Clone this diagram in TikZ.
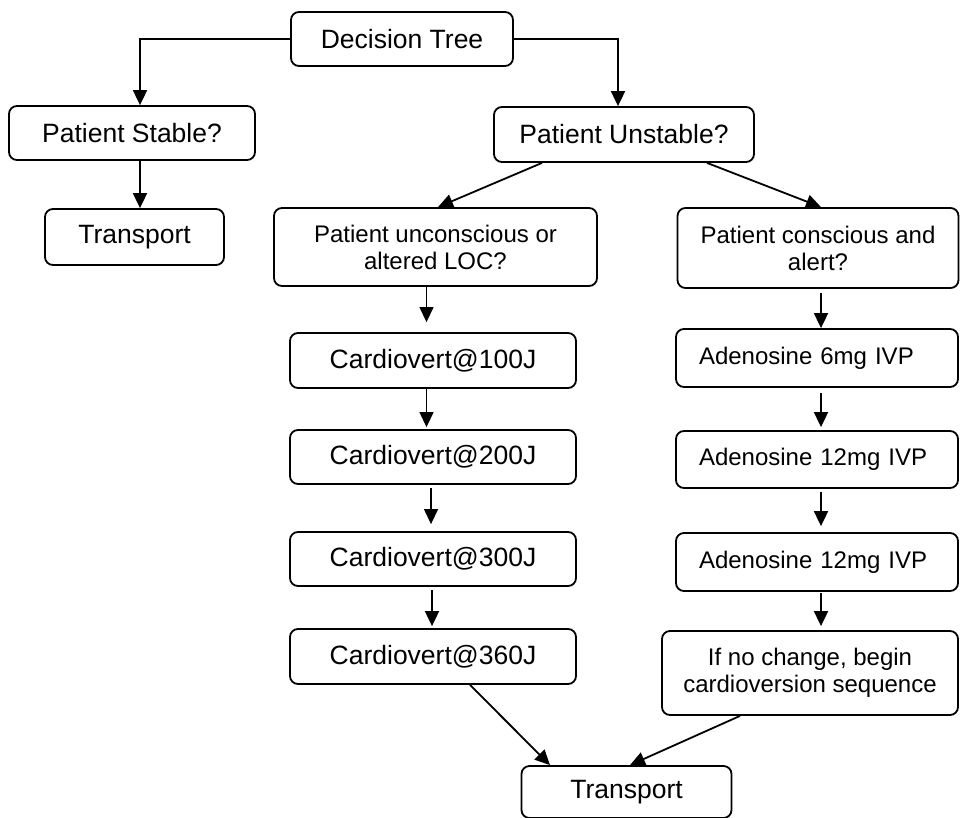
\documentclass[tikz,border=0pt]{standalone}
\usepackage{fontspec}
\setmainfont{Liberation Sans}
\usetikzlibrary{arrows.meta}
\newcommand{\fsz}[2]{\fontsize{#1}{#2}\selectfont}
\tikzset{
  box/.style={draw, line width=1.8pt, rounded corners=8pt, align=center,
    inner sep=0pt, font=\fsz{26.5}{30}},
  smallbox/.style={box, font=\fsz{24}{27}},
  adbox/.style={box, font=\fsz{24}{27}, minimum width=282pt, minimum height=58pt,
    text width=236pt, inner xsep=23pt, align=left},
  arr/.style={line width=1.8pt, -{Triangle[length=15pt,width=14pt]}},
  thinarr/.style={line width=1.2pt, -{Triangle[length=15pt,width=14pt]}},
}
\begin{document}
\begin{tikzpicture}[x=1pt,y=-1pt]
\useasboundingbox (0,0) rectangle (960,817);

% top level
\node[box, minimum width=222pt, minimum height=54pt] (dt) at (402,39) {Decision Tree};
\node[box, minimum width=246pt, minimum height=54pt] (stable) at (132,133) {Patient Stable?};
\node[box, minimum width=260pt, minimum height=55pt] (unstable) at (624,134.5) {Patient Unstable?};
\node[box, minimum width=179pt, minimum height=56pt] (trL) at (134.5,237) {Transport};

% branches under the unstable case
\node[smallbox, minimum width=323pt, minimum height=78pt] (uncon) at (435.5,247)
  {Patient unconscious or\\altered LOC?};
\node[smallbox, minimum width=281pt, minimum height=80pt] (consc) at (818,248)
  {Patient conscious and\\alert?};

% cardioversion column
\node[box, minimum width=286pt, minimum height=55pt] (c100) at (433,360.5) {Cardiovert@100J};
\node[box, minimum width=286pt, minimum height=54pt] (c200) at (433,457) {Cardiovert@200J};
\node[box, minimum width=286pt, minimum height=54pt] (c300) at (433,559) {Cardiovert@300J};
\node[box, minimum width=286pt, minimum height=55pt] (c360) at (433,656.5) {Cardiovert@360J};

% adenosine column
\node[adbox] (a6) at (817,358) {Adenosine 6mg IVP};
\node[adbox, minimum height=57pt] (a12a) at (817,459.5) {Adenosine 12mg IVP};
\node[adbox] (a12b) at (817,562) {Adenosine 12mg IVP};
\node[smallbox, minimum width=296pt, minimum height=84pt] (ifnc) at (810,673)
  {If no change, begin\\cardioversion sequence};

% final transport
\node[box, minimum width=210pt, minimum height=52pt] (trB) at (626.5,792) {Transport};

% connectors
\draw[arr] (dt.west) -| ([xshift=8pt]stable.north);
\draw[arr] (dt.east) -| ([xshift=-6pt]unstable.north);
\draw[arr] ([xshift=8pt]stable.south) -- ([xshift=8pt]stable.south |- trL.north);

\draw[arr] ([xshift=-82pt]unstable.south) -- ([xshift=2.5pt]uncon.north);
\draw[arr] ([xshift=83pt]unstable.south) -- ([xshift=3pt]consc.north);

\draw[thinarr, shorten >=10pt] ([xshift=-9pt]uncon.south) -- ([xshift=-9pt]uncon.south |- c100.north);
\draw[thinarr, shorten >=2pt] ([xshift=-6.5pt]c100.south) -- ([xshift=-6.5pt]c100.south |- c200.north);
\draw[thinarr, shorten <=3pt, shorten >=7pt] ([xshift=-2pt]c200.south) -- ([xshift=-2pt]c200.south |- c300.north);
\draw[arr, shorten <=3pt, shorten >=2pt] ([xshift=-1pt]c300.south) -- ([xshift=-1pt]c300.south |- c360.north);

\draw[arr, shorten <=4pt] ([xshift=3pt]consc.south) -- ([xshift=3pt]consc.south |- a6.north);
\draw[arr, shorten <=5pt, shorten >=3pt] ([xshift=4pt]a6.south) -- ([xshift=4pt]a6.south |- a12a.north);
\draw[arr, shorten <=3pt, shorten >=6pt] ([xshift=4pt]a12a.south) -- ([xshift=4pt]a12a.south |- a12b.north);
\draw[arr, shorten <=1pt, shorten >=4pt] ([xshift=4pt]a12b.south) -- ([xshift=4pt]a12b.south |- ifnc.north);

\draw[arr] ([xshift=37pt]c360.south) -- ([xshift=-76.5pt]trB.north);
\draw[arr] ([xshift=-70pt]ifnc.south) -- ([xshift=3.5pt]trB.north);
\end{tikzpicture}
\end{document}
